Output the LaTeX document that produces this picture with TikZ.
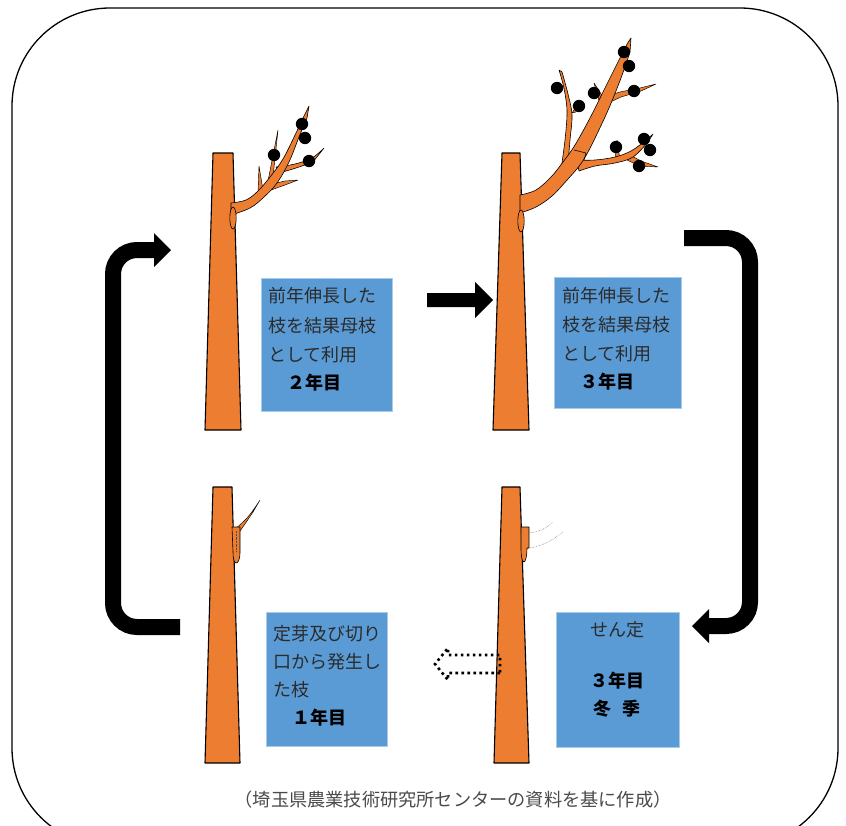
\documentclass[tikz,border=0pt]{standalone}
\usepackage{fontspec}
\newfontfamily\jp{Noto Sans CJK JP}
\definecolor{bark}{HTML}{ED7D31}
\definecolor{panel}{HTML}{5B9BD5}
\definecolor{panelrim}{HTML}{A9CBEA}
\definecolor{ink}{HTML}{2B2B2B}
\definecolor{note}{HTML}{4A4A4A}
\tikzset{
  trunk/.style={fill=bark, draw=black, line width=1.1pt, line join=round},
  limb/.style={fill=bark, draw=black, line width=0.6pt, line join=round},
  twig/.style={fill=bark, draw=black, line width=0.45pt, line join=round},
  bud/.style={fill=black, draw=none},
  panelbox/.style={fill=panel, draw=panelrim, line width=0.8pt},
  ptext/.style={font=\jp\fontsize{18}{20}\selectfont, text=ink, inner sep=0pt, anchor=west},
  pbold/.style={font=\jp\bfseries\fontsize{18}{20}\selectfont, text=black, inner sep=0pt, anchor=west},
  cycleflow/.style={line width=16pt, draw=black, rounded corners=24pt},
  headfill/.style={fill=black, draw=none},
}
\begin{document}
\begin{tikzpicture}[x=1pt,y=-1pt]
\useasboundingbox (0,0) rectangle (846,825);
\clip (0,0) rectangle (846,825);

% outer frame
\draw[line width=1.3pt, rounded corners=98pt] (12,8) rectangle (838,846);

% ---------- trunks ----------
\draw[trunk] (213,153) -- (233,153) -- (241,430) -- (205,430) -- cycle;
\draw[trunk] (502,153) -- (520,153) -- (529,430) -- (493,430) -- cycle;
\draw[trunk] (213,487) -- (232,487) -- (240,763) -- (205,763) -- cycle;
\draw[trunk] (502,487) -- (520,487) -- (529,763) -- (494,763) -- cycle;

% ---------- tree, year 2 ----------
\draw[twig] (258,193) -- (263,190) -- (259,166) -- cycle;
\draw[twig] (268,181) -- (273,177) -- (278,130) -- cycle;
\draw[twig] (268,185) -- (285,181) -- (298,180) -- (285,185) -- (271,190) -- cycle;
\draw[limb] plot[smooth, tension=0.6] coordinates {(276,167) (295,164) (312,158) (324,148)}
  -- plot[smooth, tension=0.6] coordinates {(313,162) (296,168) (279,173)} -- cycle;
\draw[limb] plot[smooth, tension=0.6] coordinates {(231,203) (246,200) (258,191) (270,177) (283,159) (296,133) (304,116) (309,106)}
  -- plot[smooth, tension=0.6] coordinates {(307,118) (299,137) (289,162) (277,183) (264,197) (250,208) (231,215)} -- cycle;
\draw[limb] (233,218) ellipse [x radius=3.2, y radius=11];
\fill[bud] (302,124) circle (6.2);
\fill[bud] (305,138) circle (6.2);
\fill[bud] (274,155) circle (6.2);
\fill[bud] (309,161) circle (6.2);

% ---------- tree, year 3 ----------
% leader twigs
\draw[twig] (604,97) -- (620,92) -- (640,88) -- (656,84) -- (641,91) -- (621,97) -- (606,104) -- cycle;
\draw[twig] (600,104) -- (594,83) -- (605,100) -- cycle;
% left limb
\draw[twig] (572,113) -- (580,101) -- (576,112) -- cycle;
\draw[limb] plot[smooth, tension=0.6] coordinates {(561,170) (565,140) (567,115) (566,100) (563,84) (559,70)}
  -- plot[smooth, tension=0.6] coordinates {(562,72) (568,94) (572,115) (570,140) (568,164)} -- cycle;
% side limb
\draw[twig] (615,161) -- (620,160) -- (617,140) -- cycle;
\draw[twig] (628,154) -- (641,161) -- (658,167) -- (640,166) -- (627,160) -- cycle;
\draw[limb] plot[smooth, tension=0.6] coordinates {(577,160) (595,160) (615,157) (631,151) (645,141) (653,134)}
  -- plot[smooth, tension=0.6] coordinates {(648,142) (633,157) (615,163) (595,166) (579,171)} -- cycle;
% main limb and leader
\draw[limb] plot[smooth, tension=0.6] coordinates {(520,195) (536,190) (551,177) (563,162) (575,145) (590,118) (605,88) (618,62) (626,46) (631,38)}
  -- plot[smooth, tension=0.6] coordinates {(630,52) (621,78) (609,108) (597,134) (588,152) (580,165) (568,179) (552,196) (536,207) (520,213)} -- cycle;
\draw[line width=0.6pt] (574,150) -- (586,153) -- (584,160);
\draw[limb] (521,221) ellipse [x radius=3.2, y radius=11];
\fill[bud] (624,52) circle (6.2);
\fill[bud] (629,66) circle (6.2);
\fill[bud] (557,88) circle (6.2);
\fill[bud] (594,93) circle (6.2);
\fill[bud] (634,91) circle (6.2);
\fill[bud] (579,106) circle (6.2);
\fill[bud] (616,147) circle (6.2);
\fill[bud] (644,139) circle (6.2);
\fill[bud] (650,150) circle (6.2);
\fill[bud] (639,166) circle (6.2);

% ---------- tree, year 1 ----------
\draw[twig] plot[smooth, tension=0.6] coordinates {(233,531) (246,519) (254,509) (260,500)}
  -- plot[smooth, tension=0.6] coordinates {(253,512) (247,521) (238,534)} -- cycle;
\draw[limb] (232,527) -- (240,527) -- (240,552) .. controls (240,560) and (238,563) .. (236,563)
  .. controls (234,563) and (233,558) .. (233,552) -- cycle;
\draw[densely dotted, line width=0.4pt, black!70] (236,531) -- (236,552);

% ---------- tree after pruning ----------
\draw[limb] (521,527) -- (529,527) -- (529,548) -- (527,548) .. controls (527,558) and (525,562) .. (524,562)
  .. controls (522,562) and (521,556) .. (521,548) -- cycle;
\draw[densely dotted, line width=0.5pt, black!55] (529,533) .. controls (540,532) and (548,527) .. (553,522);
\draw[densely dotted, line width=0.5pt, black!55] (529,548) .. controls (545,546) and (555,538) .. (563,532);

% ---------- text panels ----------
\node[panelbox, minimum width=131, minimum height=133, anchor=north west] (p2) at (261,278) {};
\node[panelbox, minimum width=127, minimum height=131, anchor=north west] (p3) at (554,277) {};
\node[panelbox, minimum width=121, minimum height=134, anchor=north west] (p1) at (266,612) {};
\node[panelbox, minimum width=123, minimum height=135, anchor=north west] (pw) at (556,612) {};

\node[ptext] (p2a) at (268,296) {前年伸長した};
\node[ptext] (p2b) at (268,326) {枝を結果母枝};
\node[ptext] (p2c) at (268,355) {として利用};
\node[pbold] (p2d) at (287,383) {２年目};

\node[ptext] (p3a) at (562,296) {前年伸長した};
\node[ptext] (p3b) at (562,325) {枝を結果母枝};
\node[ptext] (p3c) at (562,354) {として利用};
\node[pbold] (p3d) at (580,382) {３年目};

\node[ptext] (p1a) at (273,634) {定芽及び切り};
\node[ptext] (p1b) at (273,662) {口から発生し};
\node[ptext] (p1c) at (273,690) {た枝};
\node[pbold] (p1d) at (292,718) {１年目};

\node[ptext, anchor=center] (pwa) at (617,630) {せん定};
\node[pbold, anchor=center] (pwb) at (617,681) {３年目};
\node[pbold, anchor=center] (pwc) at (617,709) {冬\kern12pt 季};

% ---------- cycle arrows ----------
\coordinate (lA) at (180,627);
\coordinate (lB) at (156,250);
\coordinate (lrail) at (113,0);
\draw[cycleflow] (lA) -- (lA -| lrail) -- (lB -| lrail) -- (lB);
\fill[headfill] ([xshift=-2pt,yshift=-17pt]lB) -- ([xshift=15pt]lB) -- ([xshift=-2pt,yshift=17pt]lB) -- cycle;

\coordinate (rA) at (684,238);
\coordinate (rB) at (708,626);
\coordinate (rrail) at (750,0);
\draw[cycleflow] (rA) -- (rA -| rrail) -- (rB -| rrail) -- (rB);
\fill[headfill] ([xshift=1pt,yshift=-17pt]rB) -- ([xshift=-16pt]rB) -- ([xshift=1pt,yshift=17pt]rB) -- cycle;

\coordinate (mA) at (427,300);
\coordinate (mB) at (493,300);
\fill[headfill] ([yshift=-7pt]mA) -- ([xshift=-18pt,yshift=-7pt]mB) -- ([xshift=-18pt,yshift=-18pt]mB) -- (mB)
  -- ([xshift=-18pt,yshift=18pt]mB) -- ([xshift=-18pt,yshift=7pt]mB) -- ([yshift=7pt]mA) -- cycle;

\coordinate (dA) at (500,664);
\coordinate (dB) at (435,664);
\draw[line width=2.6pt, dash pattern=on 2.6pt off 3.4pt]
  ([yshift=-9pt]dA) -- ([xshift=13pt,yshift=-9pt]dB) -- ([xshift=13pt,yshift=-16pt]dB) -- (dB)
  -- ([xshift=13pt,yshift=16pt]dB) -- ([xshift=13pt,yshift=9pt]dB) -- ([yshift=9pt]dA) -- cycle;

% ---------- source note ----------
\node[font=\jp\fontsize{18.2}{20}\selectfont, text=note, inner sep=0pt] (src) at (453,800) {（埼玉県農業技術研究所センターの資料を基に作成）};
\end{tikzpicture}
\end{document}
